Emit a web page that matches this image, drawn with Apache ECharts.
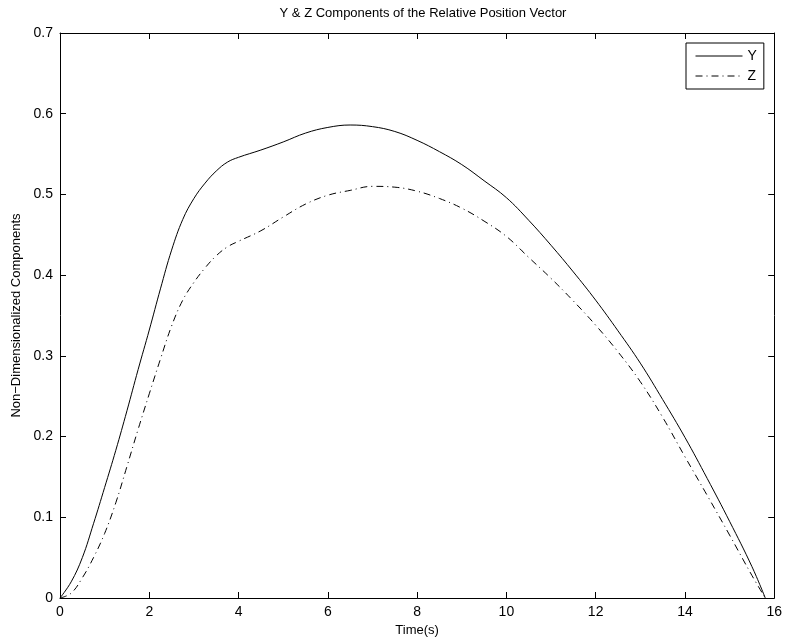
<!DOCTYPE html>
<html>
<head>
    <meta charset="utf-8">
    <script src="https://cdn.jsdelivr.net/npm/echarts@6/dist/echarts.min.js"></script>
    <style>
        html, body { margin: 0; padding: 0; background: #fff; }
    </style>
</head>
<body>
<div id="main" style="width: 785px;height:643px;"></div>
<script type="text/javascript">
    // 数据：时间(s) 与两个无量纲分量
    const time = [0, 0.25, 0.5, 0.75, 1, 1.25, 1.5, 1.75, 2, 2.25, 2.5, 2.75, 3, 3.25, 3.5, 3.75, 4,
        4.5, 5, 5.5, 6, 6.5, 7, 7.5, 8, 8.5, 9, 9.5, 10, 10.5, 11, 11.5, 12, 12.5, 13, 13.5, 14, 14.5, 15, 15.5, 15.8];
    const compY = [0, 0.02, 0.05, 0.092, 0.137, 0.183, 0.232, 0.283, 0.332, 0.383, 0.431, 0.469, 0.495, 0.514, 0.529, 0.540, 0.546,
        0.555, 0.565, 0.576, 0.583, 0.586, 0.584, 0.578, 0.567, 0.553, 0.537, 0.517, 0.496, 0.468, 0.437, 0.404, 0.369, 0.331, 0.291, 0.246, 0.199, 0.148, 0.095, 0.039, 0];
    const compZ = [0, 0.006, 0.025, 0.05, 0.08, 0.118, 0.163, 0.209, 0.253, 0.296, 0.337, 0.369, 0.391, 0.409, 0.424, 0.435, 0.442,
        0.455, 0.472, 0.488, 0.499, 0.505, 0.510, 0.509, 0.504, 0.495, 0.483, 0.467, 0.448, 0.422, 0.396, 0.368, 0.338, 0.305, 0.268, 0.224, 0.175, 0.127, 0.078, 0.028, 0];

    const seriesNames = ['Y', 'Z'];

    const font = 'Liberation Sans, Arial, Helvetica, sans-serif';

    function pairs(xs, ys) {
        return xs.map((x, i) => [x, ys[i]]);
    }

    const myChart = echarts.init(document.getElementById('main'));

    const baseX = {
        type: 'value', min: 0, max: 16, interval: 2,
        axisLine: { show: true, onZero: false, lineStyle: { color: '#000', width: 1 } },
        axisTick: { show: true, inside: true, length: 6, lineStyle: { color: '#000' } },
        splitLine: { show: false }
    };
    const baseY = {
        type: 'value', min: 0, max: 0.7, interval: 0.1,
        axisLine: { show: true, onZero: false, lineStyle: { color: '#000', width: 1 } },
        axisTick: { show: true, inside: true, length: 6, lineStyle: { color: '#000' } },
        splitLine: { show: false }
    };

    const option = {
        animation: false,
        backgroundColor: '#fff',
        title: {
            text: 'Y & Z Components of the Relative Position Vector',
            left: 418, textAlign: 'center', top: 2,
            textStyle: { fontFamily: font, fontSize: 13, fontWeight: 'normal', color: '#000' }
        },
        legend: {
            data: seriesNames,
            orient: 'vertical',
            left: 686, top: 43,
            padding: [6, 7, 6, 9],
            itemWidth: 47, itemHeight: 10, itemGap: 6,
            itemTextGap: 6,
            borderColor: '#000', borderWidth: 1,
            backgroundColor: '#fff',
            itemStyle: { opacity: 0 },
            lineStyle: { width: 1 },
            textStyle: { fontFamily: font, fontSize: 14, color: '#000' }
        },
        grid: { left: 60, right: 9, top: 33, bottom: 45, containLabel: false },
        xAxis: [
            Object.assign({}, baseX, {
                position: 'bottom',
                name: 'Time(s)', nameLocation: 'middle', nameGap: 24,
                nameTextStyle: { fontFamily: font, fontSize: 13, color: '#000' },
                axisLabel: { fontFamily: font, fontSize: 14, color: '#000', margin: 7 }
            }),
            Object.assign({}, baseX, { position: 'top', axisLabel: { show: false } })
        ],
        yAxis: [
            Object.assign({}, baseY, {
                position: 'left',
                name: 'Non\u2212Dimensionalized Components', nameLocation: 'middle', nameGap: 34,
                nameTextStyle: { fontFamily: font, fontSize: 13, color: '#000' },
                axisLabel: { fontFamily: font, fontSize: 14, color: '#000', margin: 7 }
            }),
            Object.assign({}, baseY, { position: 'right', axisLabel: { show: false } })
        ],
        series: [
            {
                name: 'Y', type: 'line',
                data: pairs(time, compY),
                smooth: 0.4,
                symbol: 'none',
                lineStyle: { color: '#000', width: 1, type: 'solid' },
                itemStyle: { color: '#000' }
            },
            {
                name: 'Z', type: 'line',
                data: pairs(time, compZ),
                smooth: 0.4,
                symbol: 'none',
                lineStyle: { color: '#000', width: 1, type: [7, 4, 1, 4] },
                itemStyle: { color: '#000' }
            }
        ]
    };

    myChart.setOption(option);
</script>
</body>
</html>
